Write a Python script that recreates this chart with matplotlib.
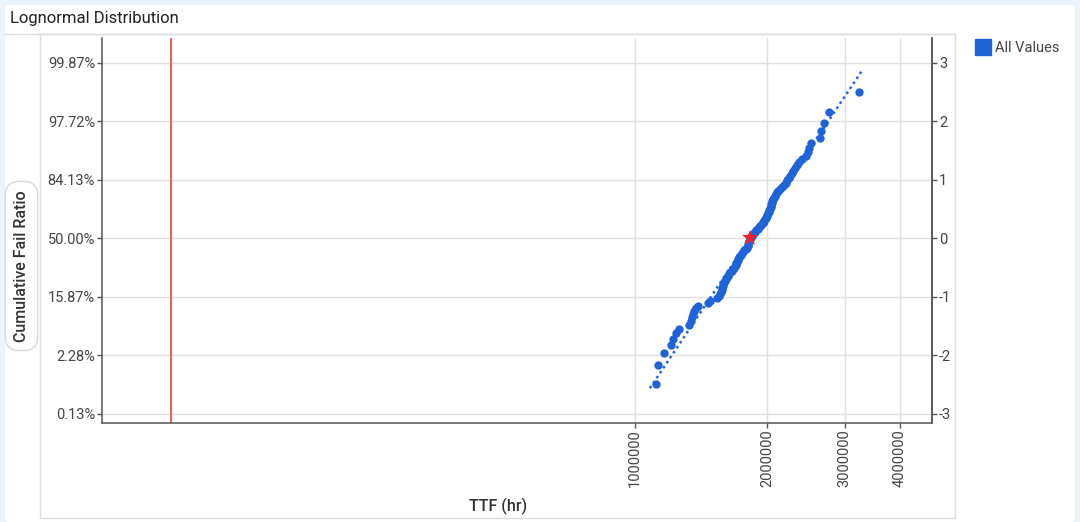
import matplotlib
matplotlib.use("Agg")
import matplotlib.pyplot as plt
from matplotlib.patches import Rectangle, FancyBboxPatch
from matplotlib.lines import Line2D
from statistics import NormalDist
import math

plt.rcParams['font.family'] = ['Roboto', 'DejaVu Sans']

# ---------------- data ----------------
ttf_hours = [
    1117000, 1125000, 1160000, 1205000, 1218000, 1239000, 1256000, 1327000, 1338000, 1347000,
    1354000, 1362000, 1377000, 1388000, 1467000, 1482000, 1538000, 1554000, 1563000, 1568000,
    1573000, 1578000, 1581000, 1588000, 1596000, 1604000, 1613000, 1621000, 1630000, 1639000,
    1647000, 1659000, 1669000, 1678000, 1686000, 1692000, 1700000, 1705000, 1712000, 1718000,
    1724000, 1733000, 1741000, 1749000, 1758000, 1773000, 1787000, 1797000, 1802000, 1805000,
    1809000, 1813000, 1817000, 1821000, 1824000, 1833000, 1845000, 1855000, 1865000, 1875000,
    1887000, 1900000, 1912000, 1924000, 1937000, 1950000, 1959000, 1965000, 1976000, 1984000,
    1991000, 2000000, 2008000, 2016000, 2022000, 2028000, 2034000, 2039000, 2043000, 2048000,
    2052000, 2057000, 2066000, 2077000, 2088000, 2102000, 2118000, 2136000, 2155000, 2178000,
    2203000, 2221000, 2240000, 2256000, 2272000, 2288000, 2311000, 2336000, 2366000, 2401000,
    2452000, 2469000, 2488000, 2511000, 2633000, 2656000, 2693000, 2765000, 3228000,
]
fit_median_hr = 1826000
fit_sigma_log10 = 0.0891
fit_range_hr = [1080000, 3285000]
spec_limit_hr = 87600

z_ticks = [3, 2, 1, 0, -1, -2, -3]
pct_labels = ["99.87%", "97.72%", "84.13%", "50.00%", "15.87%", "2.28%", "0.13%"]
right_labels = ["3", "2", "1", "0", "-1", "-2", "-3"]
x_ticks = [1000000, 2000000, 3000000, 4000000]
x_tick_labels = ["1000000", "2000000", "3000000", "4000000"]

title = "Lognormal Distribution"
x_label = "TTF (hr)"
y_label = "Cumulative Fail Ratio"
legend_label = "All Values"

# ---------------- derived (median ranks -> probit) ----------------
n = len(ttf_hours)
nd = NormalDist()
z_points = [nd.inv_cdf((i - 0.3) / (n + 0.4)) for i in range(1, n + 1)]
fit_z = [(math.log10(x) - math.log10(fit_median_hr)) / fit_sigma_log10 for x in fit_range_hr]

# ---------------- figure ----------------
W, H = 1080, 522
fig = plt.figure(figsize=(W / 100, H / 100), dpi=100)
fig.patch.set_facecolor('#ebf3fd')

def fx(px):
    return px / W

def fy(py):
    return 1 - py / H

# white panel
fig.add_artist(FancyBboxPatch((fx(5), fy(522)), fx(1070), 517 / H,
                              boxstyle="round,pad=0,rounding_size=0.004",
                              transform=fig.transFigure, facecolor='white',
                              edgecolor='none', zorder=0))
# header line
fig.add_artist(Line2D([fx(5), fx(955)], [fy(34), fy(34)], transform=fig.transFigure,
                      color='#dddddd', lw=1, zorder=1))
# inner frame
fig.add_artist(Rectangle((fx(40), fy(518)), fx(915), (518 - 34) / H,
                         transform=fig.transFigure, facecolor='none',
                         edgecolor='#dddddd', lw=1, zorder=1))

fig.text(fx(10), fy(19), title, fontsize=12, color='#222222', va='center', ha='left')

blue = '#1f63d8'
ax = fig.add_axes([fx(102), fy(422.7), fx(932.3 - 102), (422.7 - 38) / H])
ax.set_facecolor('none')
ax.set_xscale('log')
ax.set_xlim(61000, 4750000)
ax.set_ylim(-3.15, 3.42)

ax.plot(fit_range_hr, fit_z, linestyle=(0, (1, 1.4)), color=blue, lw=1.8, zorder=3)
ax.plot(ttf_hours, z_points, 'o', color=blue, markersize=6, markeredgewidth=0, zorder=4)
ax.plot([fit_median_hr], [0], marker='*', color='#f0202a', markersize=12,
        markeredgewidth=0, zorder=5)
ax.axvline(spec_limit_hr, color='#e8625f', lw=1.5, zorder=2)

ax.set_yticks(z_ticks)
ax.set_yticklabels(pct_labels)
ax.set_xticks(x_ticks)
ax.set_xticklabels(x_tick_labels, rotation=90)
ax.xaxis.set_minor_locator(matplotlib.ticker.NullLocator())
ax.grid(True, color='#e0e0e0', lw=1, zorder=0)
ax.set_axisbelow(True)

ax.spines['top'].set_visible(False)
for side in ['left', 'bottom', 'right']:
    ax.spines[side].set_color('#555555')
    ax.spines[side].set_linewidth(1.1)
ax.tick_params(axis='both', colors='#555555', labelcolor='#444444', labelsize=10.5,
               length=3.5, width=1, pad=1.5)

ax2 = ax.twinx()
ax2.set_ylim(ax.get_ylim())
ax2.set_yticks(z_ticks)
ax2.set_yticklabels(right_labels)
ax2.spines['top'].set_visible(False)
ax2.spines['left'].set_visible(False)
ax2.spines['bottom'].set_visible(False)
ax2.spines['right'].set_color('#555555')
ax2.spines['right'].set_linewidth(1.1)
ax2.tick_params(axis='y', colors='#555555', labelcolor='#444444', labelsize=10.5,
                length=3.5, width=1, pad=1.5)

fig.text(fx(498), fy(506), x_label, fontsize=11.5, fontweight='medium', color='#333333',
         ha='center', va='center')
fig.text(fx(21.5), fy(266), y_label, fontsize=11.5, fontweight='medium', color='#333333',
         ha='center', va='center', rotation=90,
         bbox=dict(boxstyle='round,pad=0.55,rounding_size=0.9', facecolor='white',
                   edgecolor='#d8d8d8', lw=1))

handle = Line2D([], [], marker='s', color=blue, linestyle='', markersize=12)
fig.legend([handle], [legend_label], loc='upper left', bbox_to_anchor=(fx(966), fy(31)),
           frameon=False, fontsize=10.5, handlelength=1.0, handletextpad=0.3,
           borderpad=0.2, labelcolor='#444444')

fig.savefig('out.png', dpi=100, facecolor=fig.get_facecolor())
